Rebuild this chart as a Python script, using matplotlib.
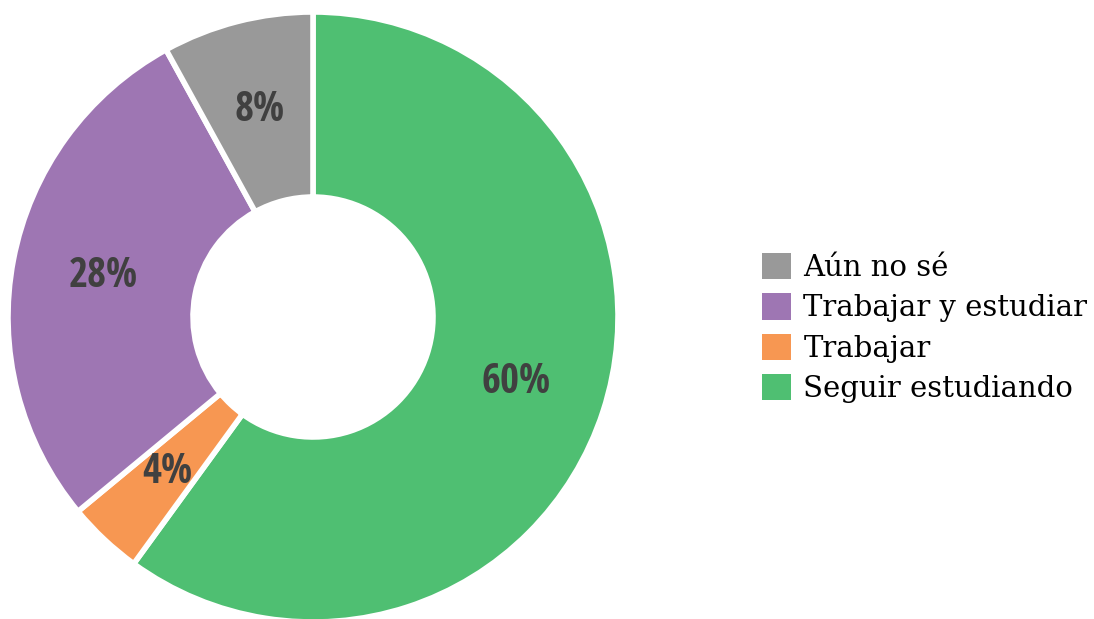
import matplotlib
matplotlib.use("Agg")
import matplotlib.pyplot as plt

# Respuestas: ¿qué piensas hacer al terminar?
categorias = ["Seguir estudiando", "Trabajar", "Trabajar y estudiar", "Aún no sé"]
porcentajes = [60, 4, 28, 8]
colores = ["#4fbf72", "#f79752", "#9e76b3", "#999999"]

W, H = 1094, 619
fig = plt.figure(figsize=(W / 100, H / 100), dpi=100)
ax = fig.add_axes([0, 0, 1, 1])

radio = 305
centro = (313, H - 317)
wedges, textos, autotextos = ax.pie(
    porcentajes,
    colors=colores,
    startangle=90,
    counterclock=False,
    radius=radio,
    center=centro,
    autopct=lambda p: f"{p:.0f}%",
    pctdistance=0.70,
    wedgeprops=dict(width=radio - 120, edgecolor="white", linewidth=4),
)
for t in autotextos:
    t.set_fontfamily(["Open Sans Condensed", "DejaVu Sans"])
    t.set_fontsize(29.5)
    t.set_fontweight("bold")
    t.set_color("#404040")

ax.set_xlim(0, W)
ax.set_ylim(0, H)
ax.set_aspect("equal")
ax.axis("off")

# Leyenda en orden inverso
leg = ax.legend(
    wedges[::-1],
    categorias[::-1],
    loc="center left",
    bbox_to_anchor=(762 / W, 1 - 328 / H),
    frameon=False,
    prop={"family": "DejaVu Serif", "size": 21},
    handlelength=1.0,
    handleheight=1.0,
    handletextpad=0.42,
    labelspacing=0.38,
    borderaxespad=0,
    borderpad=0,
)
for h in leg.legend_handles:
    h.set_linewidth(0)

fig.savefig("out.png", dpi=100)
